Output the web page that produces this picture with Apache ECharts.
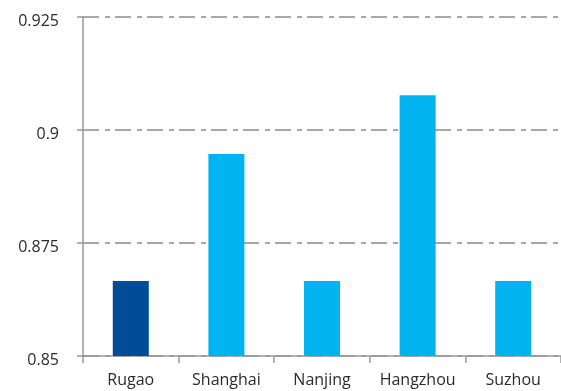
<!DOCTYPE html>
<html lang="en">
<head>
    <meta charset="UTF-8">
    <title>Cities</title>
    <script src="https://cdn.jsdelivr.net/npm/echarts@6/dist/echarts.min.js"></script>
    <style>
        html, body { margin: 0; padding: 0; background: #fff; }
    </style>
</head>
<body>
    <div id="main" style="width:561px;height:391px;"></div>
</body>
<script>
    var cities = ['Rugao', 'Shanghai', 'Nanjing', 'Hangzhou', 'Suzhou'];
    var values = [0.8666, 0.8947, 0.8666, 0.9077, 0.8666];
    var barColors = ['#004C97', '#00B5EF', '#00B5EF', '#00B5EF', '#00B5EF'];
    var yTicks = [0.85, 0.875, 0.9, 0.925];

    var myChart = echarts.init(document.getElementById('main'));

    var seriesData = [];
    for (var i = 0; i < values.length; i++) {
        seriesData.push({
            value: values[i],
            itemStyle: { color: barColors[i] }
        });
    }

    var option = {
        animation: false,
        textStyle: { fontFamily: 'Open Sans' },
        grid: { left: 83, top: 17, right: -7, bottom: 35 },
        xAxis: {
            type: 'category',
            data: cities,
            axisLine: { lineStyle: { color: '#999999', width: 1.5 } },
            axisTick: { show: true, length: 7, lineStyle: { color: '#999999', width: 1.5 } },
            axisLabel: { color: '#2b2b2b', fontSize: 16, margin: 16, interval: 0 }
        },
        yAxis: {
            type: 'value',
            min: yTicks[0],
            max: yTicks[yTicks.length - 1],
            interval: 0.025,
            axisLine: { show: true, lineStyle: { color: '#999999', width: 1.5 } },
            axisTick: { show: true, length: 6, lineStyle: { color: '#999999', width: 1.5 } },
            axisLabel: {
                color: '#2b2b2b', fontSize: 16, margin: 24,
                verticalAlign: 'top', lineHeight: 8,
                formatter: function (v) { return String(+v.toFixed(3)); }
            },
            splitLine: {
                show: true,
                lineStyle: { color: '#8c8c8c', width: 1.5, type: [16, 6, 5, 5] }
            }
        },
        series: [{
            type: 'bar',
            data: seriesData,
            barWidth: 36
        }]
    };

    myChart.setOption(option);
</script>
</html>
